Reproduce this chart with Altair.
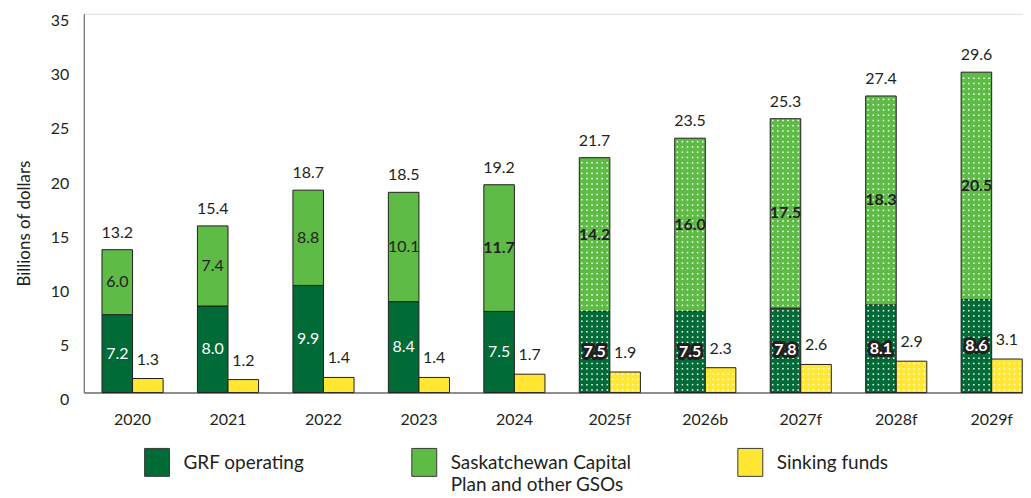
import altair as alt
import pandas as pd

# ---- data ----
years = ["2020", "2021", "2022", "2023", "2024", "2025f", "2026b", "2027f", "2028f", "2029f"]
grf = [7.2, 8.0, 9.9, 8.4, 7.5, 7.5, 7.5, 7.8, 8.1, 8.6]
sask = [6.0, 7.4, 8.8, 10.1, 11.7, 14.2, 16.0, 17.5, 18.3, 20.5]
sink = [1.3, 1.2, 1.4, 1.4, 1.7, 1.9, 2.3, 2.6, 2.9, 3.1]
totals = [13.2, 15.4, 18.7, 18.5, 19.2, 21.7, 23.5, 25.3, 27.4, 29.6]
forecast = [False, False, False, False, False, True, True, True, True, True]
sask_bold = [False, False, False, False, True, True, True, True, True, True]

series_names = ["GRF operating", "Saskatchewan Capital Plan and other GSOs", "Sinking funds"]
series_colors = ["#006b37", "#5dbb46", "#ffe733"]

INK = "#231f20"
FONT = "Lato"

# ---- tables built from the arrays ----
bar_rows = []
for i, c in enumerate(years):
    bar_rows.append(dict(cat=c, series=series_names[0], grp="a", y0=0.0, y1=grf[i], top=totals[i], fc=forecast[i]))
    bar_rows.append(dict(cat=c, series=series_names[1], grp="a", y0=grf[i], y1=totals[i], top=totals[i], fc=forecast[i]))
    bar_rows.append(dict(cat=c, series=series_names[2], grp="b", y0=0.0, y1=sink[i], top=sink[i], fc=forecast[i]))
bars_df = pd.DataFrame(bar_rows)

lab_df = pd.DataFrame(dict(cat=years, grf=grf, sask=sask, sink=sink, total=totals,
                           fc=forecast, sb=sask_bold))

# ---- shared encodings ----
xscale = alt.Scale(paddingInner=0.3597, paddingOuter=0.0994, align=0.96)
xaxis = alt.Axis(labelFont=FONT, labelFontSize=16, labelColor=INK, labelPadding=19,
                 ticks=False, tickSize=0, domainColor="#6d6e71", domainWidth=1.5,
                 labelAngle=0, grid=False, title=None)
X = alt.X("cat:N", sort=years, scale=xscale, axis=xaxis)

yscale = alt.Scale(domain=[0, 35], nice=False, zero=True)
yaxis = alt.Axis(values=[0, 5, 10, 15, 20, 25, 30, 35], labelFont=FONT, labelFontSize=16,
                 labelColor=INK, labelPadding=15, labelOffset=7, ticks=False, tickSize=0,
                 grid=False, domainColor="#6d6e71", domainWidth=1.2,
                 title="Billions of dollars", titleFont=FONT, titleFontSize=17,
                 titleFontWeight="normal", titleColor=INK, titleX=-54, titleY=210,
                 titleAngle=270, titleAlign="center", titleBaseline="alphabetic")


def Y(field):
    return alt.Y(field, type="quantitative", scale=yscale, axis=yaxis)


XO = alt.XOffset("grp:N", scale=alt.Scale(domain=["a", "b"]))

legend = alt.Legend(
    title=None, orient="none", legendX=59, legendY=427, direction="horizontal",
    columnPadding=104, symbolType="M-0.893,-0.41H0.893V1.59H-0.893Z", symbolSize=784,
    symbolStrokeColor="#3a3a3a", symbolStrokeWidth=1, symbolOpacity=1,
    labelFont=FONT, labelFontSize=19, labelColor=INK, labelOffset=12,
    labelBaseline="top", labelLimit=500,
    labelExpr="datum.label == 'Saskatchewan Capital Plan and other GSOs' ? "
              "['Saskatchewan Capital', 'Plan and other GSOs'] : [datum.label, '']",
)

bars = alt.Chart(bars_df).mark_bar(stroke=INK, strokeWidth=1).encode(
    x=X, xOffset=XO, y=Y("y0"), y2="y1",
    color=alt.Color("series:N", scale=alt.Scale(domain=series_names, range=series_colors), legend=legend),
)

# white dotted texture on forecast bars (derived from bar tops through transforms)
dots = alt.Chart(bars_df).transform_filter("datum.fc && datum.y0 == 0").transform_calculate(
    row="sequence(0, floor((datum.top - 0.15) / 0.488 - 0.5) + 1)"
).transform_flatten(["row"]).transform_calculate(
    ypos="(datum.row + 0.5) * 0.488",
    col="sequence(0, 6)",
).transform_flatten(["col"]).transform_calculate(
    slot="(datum.grp == 'a' ? 0 : 6) + datum.col"
).mark_square(size=2.4, color="white", opacity=0.95).encode(
    x=X, xOffset=alt.XOffset("slot:O", scale=alt.Scale(domain=list(range(12)))), y=Y("ypos"),
)

tbase = alt.Chart(lab_df).transform_calculate(grp="'a'")
txt = dict(font=FONT, fontSize=16, baseline="middle", align="center")

total_lbl = tbase.transform_calculate(ypos="datum.total").mark_text(color=INK, dy=-17, **txt).encode(
    x=X, xOffset=XO, y=Y("ypos"), text=alt.Text("total:Q", format=".1f"))

sask_n = tbase.transform_filter("!datum.sb").transform_calculate(ypos="(datum.grf + datum.total) / 2").mark_text(
    color=INK, **txt).encode(x=X, xOffset=XO, y=Y("ypos"), text=alt.Text("sask:Q", format=".1f"))
sask_b = tbase.transform_filter("datum.sb").transform_calculate(ypos="(datum.grf + datum.total) / 2").mark_text(
    color=INK, fontWeight="bold", **txt).encode(x=X, xOffset=XO, y=Y("ypos"), text=alt.Text("sask:Q", format=".1f"))

grf_n = tbase.transform_filter("!datum.fc").transform_calculate(ypos="datum.grf / 2").mark_text(
    color="white", **txt).encode(x=X, xOffset=XO, y=Y("ypos"), text=alt.Text("grf:Q", format=".1f"))
grf_halo = tbase.transform_filter("datum.fc").transform_calculate(ypos="datum.grf / 2").mark_text(
    color=INK, fontWeight="bold", stroke=INK, strokeWidth=6, strokeJoin="round", **txt).encode(
    x=X, xOffset=XO, y=Y("ypos"), text=alt.Text("grf:Q", format=".1f"))
grf_b = tbase.transform_filter("datum.fc").transform_calculate(ypos="datum.grf / 2").mark_text(
    color="white", fontWeight="bold", **txt).encode(x=X, xOffset=XO, y=Y("ypos"), text=alt.Text("grf:Q", format=".1f"))

sink_lbl = alt.Chart(lab_df).transform_calculate(grp="'b'", ypos="datum.sink").mark_text(
    color=INK, dy=-19, **txt).encode(x=X, xOffset=XO, y=Y("ypos"), text=alt.Text("sink:Q", format=".1f"))

chart = alt.layer(
    bars, dots, total_lbl, sask_n, sask_b, grf_n, grf_halo, grf_b, sink_lbl
).resolve_scale(xOffset="independent").properties(
    width=942, height=380,
    padding={"left": 76, "top": 5, "right": 0, "bottom": 105},
    autosize=alt.AutoSizeParams(type="none"),
).configure_view(stroke=None).configure(
    style={"guide-label": {"lineHeight": 22}}
)

chart.save("out.html", embed_options={"renderer": "svg", "actions": False})
